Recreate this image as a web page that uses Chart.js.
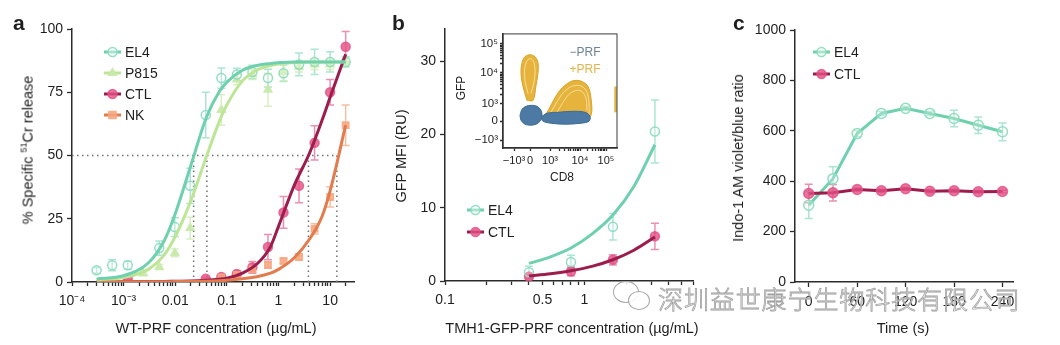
<!DOCTYPE html>
<html>
<head>
<meta charset="utf-8">
<script src="https://cdn.jsdelivr.net/npm/chart.js@4.4.1/dist/chart.umd.min.js"></script>
<style>
  body { margin: 0; width: 1060px; height: 345px; overflow: hidden; position: relative; background: #fff;
         font-family: "Liberation Sans", Arial, Helvetica, sans-serif; color: #1e1e1e; }
  canvas { position: absolute; }
  .t { position: absolute; white-space: nowrap; font-size: 14.5px; transform: translate(-50%, -50%); }
  .rot { transform: translate(-50%, -50%) rotate(-90deg); }
  .t sup { font-size: 9px; }
  .lab { position: absolute; font-weight: bold; font-size: 21px; line-height: 21px; }
  .small { font-size: 12px; }
  .wm { position: absolute; left: 658px; top: 285px; font-family: "Noto Sans CJK SC", sans-serif; font-size: 25px; font-weight: 300;
        line-height: 26px; letter-spacing: 0.9px; color: rgba(255,255,255,0.82); -webkit-text-stroke: 0.8px #a0a0a0; white-space: nowrap; }
  .bub { position: absolute; border: 1.5px solid #a8a8a8; border-radius: 50%; background: rgba(255,255,255,0.88); }
</style>
</head>
<body>
<canvas id="chartA" width="360" height="345" style="left:0;top:0"></canvas>
<canvas id="chartB" width="340" height="345" style="left:360px;top:0"></canvas>
<canvas id="inset" width="175" height="165" style="left:455px;top:25px"></canvas>
<canvas id="chartC" width="360" height="345" style="left:700px;top:0"></canvas>

<div class="lab" style="left:13px;top:12px">a</div>
<div class="lab" style="left:392px;top:12px">b</div>
<div class="lab" style="left:733px;top:12px">c</div>

<div class="t rot" style="left:27px;top:150px">% Specific <sup>51</sup>Cr release</div>
<div class="t" style="left:216px;top:328px">WT-PRF concentration (µg/mL)</div>
<div class="t rot" style="left:401px;top:156px">GFP MFI (RU)</div>
<div class="t" style="left:572px;top:328px">TMH1-GFP-PRF concentration (µg/mL)</div>
<div class="t rot" style="left:738px;top:158px">Indo-1 AM violet/blue ratio</div>
<div class="t" style="left:903px;top:328px">Time (s)</div>

<div class="t rot small" style="left:461px;top:88px">GFP</div>
<div class="t small" style="left:562px;top:177px">CD8</div>
<div class="t small" style="left:585px;top:52px;color:#6d8299">−PRF</div>
<div class="t small" style="left:585px;top:69px;color:#e2b548">+PRF</div>

<span class="bub" style="left:613px;top:281px;width:24px;height:20px"></span>
<span class="bub" style="left:628px;top:291px;width:20px;height:17px"></span>
<div class="wm">深圳益世康宁生物科技有限公司</div>

<script>
// ---- panel a: 51Cr release vs WT-PRF concentration ----
const concA = [0.0003, 0.0006, 0.0012, 0.0024, 0.0049, 0.0098, 0.0195, 0.039, 0.078, 0.156, 0.3125, 0.625, 1.25, 2.5, 5, 10, 20];
const el4A = [4.6, 6.6, 6.6, null, 13.4, 21.7, 38, 66, 80.6, 82, 83, 80.6, 82.5, 86, 87, 87, 87];
const el4AErr = [1.1, 2.2, 1.6, null, 2.8, 3.7, 7, 9, 4, 2.5, 2.7, 3.5, 3.3, 4.5, 5, 4, 2];
const p815A = [null, null, null, 3.5, 5.9, 11.5, 21.3, null, 68, 80, 82, 76, 83, 85, 86, 86, 87];
const p815AErr = [null, null, null, 1, 1, 1.5, 4.3, null, 6, 2, 2, 6.5, 3.5, 2, 2, 2, 1.5];
const ctlA = [null, null, 1.4, null, null, null, null, 1.3, 2, 3.2, 5.8, 13.8, 27.5, 38, 55, 75, 93];
const ctlAErr = [null, null, 0.5, null, null, null, null, 0.5, 0.8, 1, 2.3, 5, 6.3, 6.7, 6.8, 5, 6];
const nkA = [null, null, null, null, null, null, null, null, 1.8, 2.8, 5, 6.7, 8.3, 9.9, 21, 33.6, 62];
const nkAErr = [null, null, null, null, null, null, null, null, 0.5, 0.7, 1, 1.2, 1, 1.2, 2, 4, 8];

// fitted curves
const fitXA = [0.0003, 0.001, 0.003, 0.006, 0.01, 0.02, 0.04, 0.07, 0.1, 0.2, 0.4, 0.7, 1, 2, 4, 7, 10, 20];
const el4FitA = [1.2, 2.5, 7.5, 16, 27, 46, 65, 75, 79, 83.7, 85.7, 86.4, 86.7, 87, 87, 87, 87, 87];
const p815FitA = [0.8, 1.8, 5, 10.5, 18, 32, 49.5, 63, 70, 79.5, 84, 85.6, 86.2, 86.7, 87, 87, 87, 87];
const ctlFitA = [0.1, 0.1, 0.2, 0.2, 0.3, 0.4, 0.7, 1.1, 1.5, 3.5, 7.5, 14, 22, 38, 51, 64, 73, 90];
const nkFitA = [0.05, 0.05, 0.1, 0.1, 0.15, 0.2, 0.3, 0.5, 0.7, 1.3, 2.2, 3.5, 5, 9.5, 17, 26, 36, 62];
const ec50A = [0.0227, 0.041, 3.8, 13.5];

const decadesA = [1e-4, 1e-3, 0.01, 0.1, 1, 10];
const decadeLabelsA = ['10⁻⁴', '10⁻³', '0.01', '0.1', '1', '10'];
const yTicksA = [0, 25, 50, 75, 100];

// ---- panel b: GFP MFI vs TMH1-GFP-PRF ----
const concB = [0.4, 0.8, 1.6, 3.2];
const el4B = [1.2, 2.6, 7.4, 20.4];
const el4BErr = [0.8, 0.9, 1.8, 4.3];
const ctlB = [0.6, 1.3, 2.9, 6.1];
const ctlBErr = [0.3, 0.6, 0.7, 1.8];
const fitXB = [0.4, 0.57, 0.8, 1.13, 1.6, 2.26, 3.2];
const el4FitB = [2.4, 3.3, 4.5, 6.4, 9.0, 12.9, 18.6];
const ctlFitB = [0.7, 1.0, 1.4, 2.0, 2.9, 4.2, 6.0];
const decadesB = [0.1, 1];
const labelledB = [0.1, 0.5, 1];
const yTicksB = [0, 10, 20, 30];

// inset contour outlines (display units of the biexponential axes)
const insetXTicks = [11, 27, 47, 77, 103];
const insetXLabels = ['−10³', '0', '10³', '10⁴', '10⁵'];
const insetYTicks = [8, 27, 45, 76, 105];
const insetYLabels = ['−10³', '0', '10³', '10⁴', '10⁵'];
const tearX = [24, 20, 18, 19, 22, 27, 32, 35, 35, 33, 30, 24];
const tearY = [48, 62, 75, 86, 92, 94, 92, 86, 76, 63, 48, 48];
const humpX = [38, 44, 50, 56, 63, 71, 79, 85, 88, 88, 80, 62, 46, 38];
const humpY = [30, 36, 47, 57, 64, 68, 67, 62, 50, 33, 27, 26, 27, 30];
const ring1X = [46, 52, 58, 65, 72, 79, 84, 86, 86];
const ring1Y = [33, 43, 53, 60, 63, 62, 56, 45, 33];
const ring2X = [54, 60, 66, 73, 79, 83, 84];
const ring2Y = [36, 46, 54, 58, 57, 50, 38];
const ringTX = [25, 22, 22, 25, 28, 31, 32, 30, 28];
const ringTY = [55, 68, 82, 89, 90, 86, 74, 62, 55];
const sliverX = [112.5, 112.5];
const sliverY = [36, 62];
const blueRoundX = [17, 19, 23, 28, 34, 38, 39, 37, 33, 28, 22, 18, 17];
const blueRoundY = [33, 39, 42, 43, 42, 38, 32, 27, 24, 23, 24, 28, 33];
const blueLongX = [38, 44, 55, 70, 82, 87, 86, 78, 62, 48, 40, 38];
const blueLongY = [31, 35, 36, 37, 36, 32, 27, 25, 24, 25, 27, 31];

// ---- panel c: Indo-1 ratio over time ----
const timeC = [0, 30, 60, 90, 120, 150, 180, 210, 240];
const el4C = [305, 410, 589, 669, 689, 669, 649, 622, 596];
const el4CErr = [53, 47, 12, 8, 8, 8, 33, 33, 35];
const ctlC = [351, 354, 367, 362, 370, 360, 362, 358, 359];
const ctlCErr = [37, 33, 6, 6, 6, 6, 6, 5, 5];
const xTicksC = [0, 60, 120, 180, 240];
const yTicksC = [0, 200, 400, 600, 800, 1000];

const C = {
  el4: '#6fd0ae', el4Pt: 'rgba(140,220,192,0.95)', el4Err: 'rgba(150,222,196,0.8)',
  p815: '#bde596', p815Pt: 'rgba(200,233,168,0.9)', p815Err: 'rgba(205,235,178,0.8)',
  ctl: '#9c1d4c', ctlPt: 'rgba(228,80,132,0.8)', ctlErr: 'rgba(226,118,158,0.8)',
  nk: '#e27b4e', nkPt: 'rgba(247,166,128,0.85)', nkErr: 'rgba(245,175,140,0.8)',
  axis: '#2b2b2b', ref: '#707070',
  yellow: '#e6b43c', blue: '#4d7aa5'
};

Chart.defaults.font.family = '"Liberation Sans", Arial, Helvetica, sans-serif';
Chart.defaults.font.size = 14;
Chart.defaults.color = '#1e1e1e';

// error bars behind the marks
const errorBars = {
  id: 'errorBars',
  beforeDatasetsDraw(chart) {
    const { ctx } = chart;
    const xs = chart.scales.x, ys = chart.scales.y;
    chart.data.datasets.forEach((ds) => {
      if (!ds.err) return;
      ctx.save();
      ctx.strokeStyle = ds.errColor;
      ctx.lineWidth = 1.5;
      ds.data.forEach((p, j) => {
        const e = ds.err[j];
        if (!e) return;
        const px = xs.getPixelForValue(p.x);
        const top = ys.getPixelForValue(p.y + e), bot = ys.getPixelForValue(p.y - e);
        ctx.beginPath();
        ctx.moveTo(px, top); ctx.lineTo(px, bot);
        ctx.moveTo(px - 4, top); ctx.lineTo(px + 4, top);
        ctx.moveTo(px - 4, bot); ctx.lineTo(px + 4, bot);
        ctx.stroke();
      });
      ctx.restore();
    });
  }
};

function marker(ctx, style, x, y, r, fill, stroke) {
  ctx.beginPath();
  if (style === 'triangle') {
    ctx.moveTo(x, y - r); ctx.lineTo(x + r * 0.87, y + r * 0.5); ctx.lineTo(x - r * 0.87, y + r * 0.5); ctx.closePath();
  } else if (style === 'rect') {
    ctx.rect(x - r * 0.8, y - r * 0.8, r * 1.6, r * 1.6);
  } else {
    ctx.arc(x, y, r, 0, Math.PI * 2);
  }
  ctx.fillStyle = fill; ctx.fill();
  ctx.lineWidth = 1.5; ctx.strokeStyle = stroke; ctx.stroke();
}

// legend drawn as line + marker, like the figure
const lineLegend = {
  id: 'lineLegend',
  afterDraw(chart, args, opts) {
    if (!opts.items) return;
    const { ctx } = chart;
    opts.items.forEach((it, k) => {
      const y = opts.y + k * opts.gap;
      ctx.save();
      ctx.strokeStyle = it.line; ctx.lineWidth = 3;
      ctx.beginPath(); ctx.moveTo(opts.x, y); ctx.lineTo(opts.x + 17, y); ctx.stroke();
      marker(ctx, it.style, opts.x + 8.5, y, 4.5, it.fill, it.stroke);
      ctx.fillStyle = '#1e1e1e';
      ctx.font = '14px "Liberation Sans", Arial, sans-serif';
      ctx.textBaseline = 'middle';
      ctx.fillText(it.text, opts.x + 21, y + 1);
      ctx.restore();
    });
  }
};

const frameBox = {
  id: 'frameBox',
  afterDraw(chart) {
    const { ctx, chartArea: a } = chart;
    ctx.save();
    ctx.strokeStyle = '#3a3a3a'; ctx.lineWidth = 1;
    ctx.strokeRect(a.left, a.top, a.right - a.left, a.bottom - a.top);
    ctx.restore();
  }
};

Chart.register(errorBars, lineLegend);

function series(xs, ys, errs) {
  const data = [], err = [];
  xs.forEach((x, i) => {
    if (ys[i] == null) return;
    data.push({ x, y: ys[i] });
    err.push(errs ? errs[i] : null);
  });
  return { data, err };
}

function pointSet(xs, ys, errs, style, fill, stroke, errColor) {
  const s = series(xs, ys, errs);
  return { data: s.data, err: s.err, errColor, showLine: false, pointStyle: style, pointRadius: 4.5,
           pointBackgroundColor: fill, pointBorderColor: stroke, pointBorderWidth: 1.5, order: 2 };
}

function fitSet(xs, ys, color) {
  return { data: series(xs, ys).data, borderColor: color, borderWidth: 3, pointRadius: 0,
           cubicInterpolationMode: 'monotone', order: 1 };
}

function listTicks(vals, labels) {
  return vals.map((v, i) => ({ value: v, lbl: labels[i] }));
}

function logTicks(decades, max, labelled) {
  const out = [];
  decades.forEach(d => {
    for (let k = 1; k <= 9; k++) {
      const v = +(d * k).toPrecision(6);
      if (v > max) break;
      const li = labelled.vals.indexOf(v);
      out.push({ value: v, lbl: li >= 0 ? labelled.text[li] : '' });
    }
  });
  return out;
}

function axis(type, min, max, ticks, size, tickLen, pad, fontSize) {
  return {
    type, min, max,
    afterBuildTicks: (a) => { a.ticks = ticks.map(t => ({ value: t.value, lbl: t.lbl })); },
    afterFit: (a) => { if (a.isHorizontal()) a.height = size; else a.width = size; },
    border: { color: C.axis, width: 1.5 },
    grid: { drawOnChartArea: false, tickLength: tickLen, tickWidth: 1.3, tickColor: C.axis },
    ticks: { autoSkip: false, maxRotation: 0, minRotation: 0, padding: pad, color: '#1e1e1e',
             font: { size: fontSize || 14 }, callback: (v, i, t) => t[i].lbl }
  };
}

function options(x, y, pad, legend) {
  return {
    responsive: false, animation: false, devicePixelRatio: 1, events: [],
    layout: { padding: pad },
    scales: { x, y },
    plugins: { legend: { display: false }, tooltip: { enabled: false }, lineLegend: legend || {} }
  };
}

// ---------- chart a ----------
const refStyle = { borderColor: C.ref, borderWidth: 1.5, borderDash: [1.5, 3.5], pointRadius: 0, order: 5 };
const refSets = [Object.assign({ data: [{ x: 1e-4, y: 50 }, { x: Math.max(...ec50A), y: 50 }] }, refStyle)]
  .concat(ec50A.map(c => Object.assign({ data: [{ x: c, y: 0 }, { x: c, y: 50 }] }, refStyle)));

new Chart(document.getElementById('chartA'), {
  type: 'line',
  data: {
    datasets: [
      fitSet(fitXA, el4FitA, C.el4),
      fitSet(fitXA, p815FitA, C.p815),
      fitSet(fitXA, nkFitA, C.nk),
      fitSet(fitXA, ctlFitA, C.ctl),
      pointSet(concA, el4A, el4AErr, 'circle', 'rgba(255,255,255,0.25)', C.el4Pt, C.el4Err),
      pointSet(concA, p815A, p815AErr, 'triangle', C.p815Pt, C.p815Pt, C.p815Err),
      pointSet(concA, nkA, nkAErr, 'rect', C.nkPt, C.nkPt, C.nkErr),
      pointSet(concA, ctlA, ctlAErr, 'circle', C.ctlPt, C.ctlPt, C.ctlErr),
      ...refSets
    ]
  },
  options: options(
    axis('logarithmic', 1e-4, 29, logTicks(decadesA, 29, { vals: decadesA, text: decadeLabelsA }), 63, 4, 7),
    axis('linear', 0, 100, listTicks(yTicksA, yTicksA.map(String)), 72, 5, 4),
    { top: 29, right: 3, left: 0, bottom: 0 },
    { x: 104, y: 52, gap: 21, items: [
      { text: 'EL4', line: C.el4, style: 'circle', fill: 'rgba(255,255,255,0.4)', stroke: C.el4Pt },
      { text: 'P815', line: C.p815, style: 'triangle', fill: C.p815Pt, stroke: C.p815Pt },
      { text: 'CTL', line: C.ctl, style: 'circle', fill: C.ctlPt, stroke: C.ctlPt },
      { text: 'NK', line: C.nk, style: 'rect', fill: C.nkPt, stroke: C.nkPt }
    ] }
  )
});

// ---------- chart b ----------
new Chart(document.getElementById('chartB'), {
  type: 'line',
  data: {
    datasets: [
      fitSet(fitXB, el4FitB, C.el4),
      fitSet(fitXB, ctlFitB, C.ctl),
      pointSet(concB, el4B, el4BErr, 'circle', 'rgba(255,255,255,0.25)', C.el4Pt, C.el4Err),
      pointSet(concB, ctlB, ctlBErr, 'circle', C.ctlPt, C.ctlPt, C.ctlErr)
    ]
  },
  options: options(
    axis('logarithmic', 0.1, 6, logTicks(decadesB, 6, { vals: labelledB, text: labelledB.map(String) }), 64, 4, 7),
    axis('linear', 0, 34.4, listTicks(yTicksB, yTicksB.map(String)), 85, 5, 4),
    { top: 29, right: 0, left: 0, bottom: 0 },
    { x: 107, y: 210, gap: 22, items: [
      { text: 'EL4', line: C.el4, style: 'circle', fill: 'rgba(255,255,255,0.4)', stroke: C.el4Pt },
      { text: 'CTL', line: C.ctl, style: 'circle', fill: C.ctlPt, stroke: C.ctlPt }
    ] }
  )
});

// ---------- inset (flow contour) ----------
function shape(xs, ys, fill, border, order) {
  return { data: series(xs, ys).data, backgroundColor: fill, borderColor: border, borderWidth: 1,
           fill: 'shape', tension: 0.35, pointRadius: 0, order };
}
function ring(xs, ys, color, width, order) {
  return { data: series(xs, ys).data, borderColor: color, borderWidth: width, fill: false,
           tension: 0.35, pointRadius: 0, order };
}
function minorTicks(a, b) {
  const out = [];
  for (let k = 2; k <= 9; k++) out.push({ value: a + (b - a) * Math.log10(k), lbl: '' });
  return out;
}
const insetXT = listTicks(insetXTicks, insetXLabels).concat(minorTicks(47, 77), minorTicks(77, 103));
const insetYT = listTicks(insetYTicks, insetYLabels).concat(minorTicks(45, 76), minorTicks(76, 105));

new Chart(document.getElementById('inset'), {
  type: 'line',
  data: {
    datasets: [
      shape(blueRoundX, blueRoundY, C.blue, '#3f6b96', 1),
      shape(blueLongX, blueLongY, C.blue, '#3f6b96', 1),
      ring(ring1X, ring1Y, 'rgba(255,236,185,0.9)', 0.8, 2),
      ring(ring2X, ring2Y, 'rgba(255,236,185,0.9)', 0.8, 2),
      ring(ringTX, ringTY, 'rgba(255,236,185,0.9)', 0.8, 2),
      shape(tearX, tearY, C.yellow, '#d9a326', 3),
      shape(humpX, humpY, C.yellow, '#d9a326', 3),
      ring(sliverX, sliverY, C.yellow, 2.5, 3)
    ]
  },
  options: options(
    axis('linear', 0, 114, insetXT, 42, 3, 3, 11),
    axis('linear', 0, 115, insetYT, 48, 3, 2, 11.5),
    { top: 8, right: 13, left: 0, bottom: 0 }
  ),
  plugins: [frameBox]
});

// ---------- chart c ----------
const lineC = (ys, errs, color, fill, stroke, errColor) =>
  Object.assign(pointSet(timeC, ys, errs, 'circle', fill, stroke, errColor),
    { showLine: true, borderColor: color, borderWidth: 3, pointRadius: 5, tension: 0 });

new Chart(document.getElementById('chartC'), {
  type: 'line',
  data: {
    datasets: [
      lineC(ctlC, ctlCErr, C.ctl, C.ctlPt, C.ctlPt, C.ctlErr),
      lineC(el4C, el4CErr, C.el4, 'rgba(255,255,255,0.25)', C.el4Pt, C.el4Err)
    ]
  },
  options: options(
    axis('linear', -17, 253, listTicks(xTicksC, xTicksC.map(String)), 63, 5, 7),
    axis('linear', 0, 1000, listTicks(yTicksC, yTicksC.map(String)), 95, 5, 4),
    { top: 30, right: 47, left: 0, bottom: 0 },
    { x: 113, y: 52, gap: 22, items: [
      { text: 'EL4', line: C.el4, style: 'circle', fill: 'rgba(255,255,255,0.4)', stroke: C.el4Pt },
      { text: 'CTL', line: C.ctl, style: 'circle', fill: C.ctlPt, stroke: C.ctlPt }
    ] }
  )
});
</script>
</body>
</html>
